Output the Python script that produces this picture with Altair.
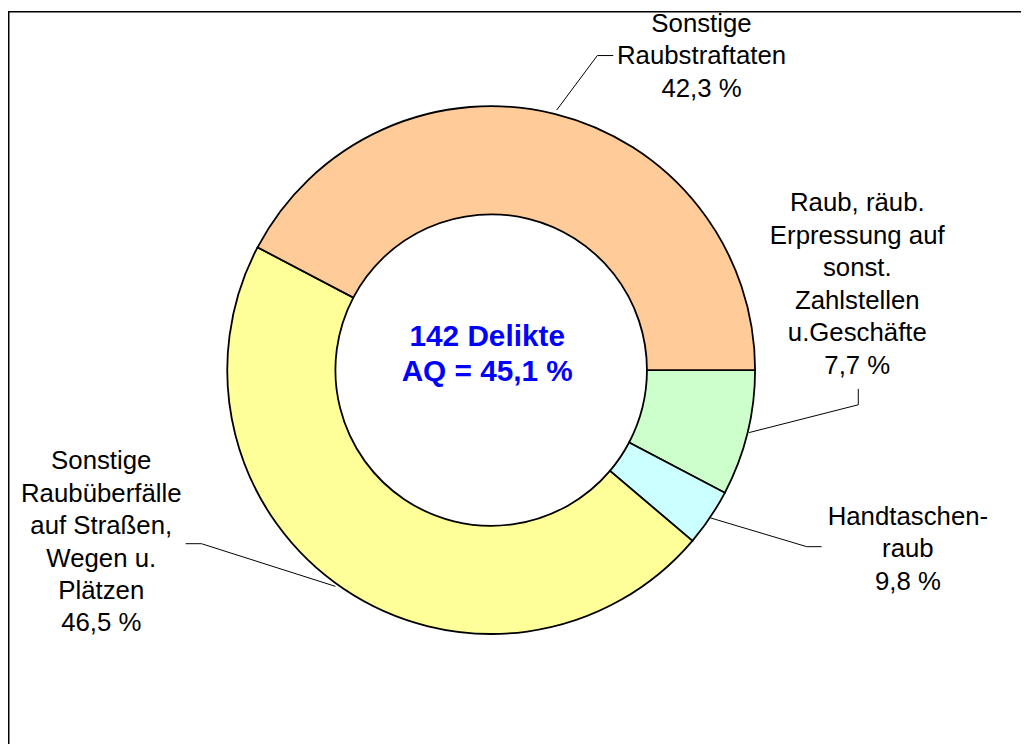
import math
import altair as alt
import pandas as pd

# ---- data ----
categories = [
    "Raub, räub. Erpressung auf sonst. Zahlstellen u.Geschäfte",
    "Handtaschenraub",
    "Sonstige Raubüberfälle auf Straßen, Wegen u. Plätzen",
    "Sonstige Raubstraftaten",
]
shares = [7.7, 3.5, 46.5, 42.3]          # slice sizes as drawn (percent of the ring)
colors = ["#CCFFCC", "#CCFFFF", "#FFFF99", "#FFCC99"]
label_lines = [
    ["Raub, räub.", "Erpressung auf", "sonst.", "Zahlstellen", "u.Geschäfte", "7,7 %"],
    ["Handtaschen-", "raub", "9,8 %"],
    ["Sonstige", "Raubüberfälle", "auf Straßen,", "Wegen u.", "Plätzen", "46,5 %"],
    ["Sonstige", "Raubstraftaten", "42,3 %"],
]
center_lines = ["142 Delikte", "AQ = 45,1 %"]

# ---- annotation layout (page pixels), kept apart from the data ----
label_x = [864, 915, 102, 707]
label_y = [210, 526, 470, 29]
leader_x = [[755, 865, 865], [716, 813, 828], [338, 203, 187], [561, 602, 618]]
leader_y = [[433, 405, 389], [519, 548, 548], [588, 545, 545], [108, 53, 53]]
center_x, center_y = 491, 346

W, H = 974, 724
PAD_R, PAD_B = 1021 - W, 739 - H

slices = pd.DataFrame({
    "category": categories,
    "share": shares,
    "order": list(range(len(categories))),
})

labels = pd.DataFrame({
    "text": ["\n".join(l) for l in label_lines],
    "x": label_x,
    "y": label_y,
})

lead_rows = []
for i, (xs_, ys_) in enumerate(zip(leader_x, leader_y)):
    for j, (a, b) in enumerate(zip(xs_, ys_)):
        lead_rows.append({"id": i, "seq": j, "x": a, "y": b})
leaders = pd.DataFrame(lead_rows)

center = pd.DataFrame({"text": ["\n".join(center_lines)], "x": [center_x], "y": [center_y]})

xs = alt.Scale(domain=[8, 8 + W], nice=False, zero=False)
ys = alt.Scale(domain=[8, 8 + H], nice=False, zero=False, reverse=True)

ring = alt.Chart(slices).mark_arc(
    innerRadius=157, outerRadius=266, stroke="black", strokeWidth=1.8
).encode(
    theta=alt.Theta("share:Q", stack=True,
                    scale=alt.Scale(range=[math.pi / 2, math.pi / 2 + 2 * math.pi])),
    color=alt.Color("category:N", scale=alt.Scale(domain=categories, range=colors), legend=None),
    order=alt.Order("order:Q"),
)

lead = alt.Chart(leaders).mark_line(color="black", strokeWidth=1).encode(
    x=alt.X("x:Q", scale=xs, axis=None),
    y=alt.Y("y:Q", scale=ys, axis=None),
    detail="id:N",
    order="seq:Q",
)

txt = alt.Chart(labels).mark_text(
    font="Liberation Sans", fontSize=26, lineBreak="\n", lineHeight=32.7,
    align="center", baseline="alphabetic", color="black",
).encode(
    x=alt.X("x:Q", scale=xs, axis=None),
    y=alt.Y("y:Q", scale=ys, axis=None),
    text="text:N",
)

ctr = alt.Chart(center).mark_text(
    font="Liberation Sans", fontSize=30, fontWeight="bold", lineBreak="\n", lineHeight=35,
    align="center", baseline="alphabetic", color="#0000FF",
).encode(
    x=alt.X("x:Q", scale=xs, axis=None),
    y=alt.Y("y:Q", scale=ys, axis=None),
    text="text:N",
)

one = pd.DataFrame({"k": [0]})
left_border = alt.Chart(one).mark_rule(color="black", strokeWidth=1.5).encode(
    x=alt.value(0.75), y=alt.value(0), y2=alt.value(H + PAD_B)
)
top_border = alt.Chart(one).mark_rule(color="black", strokeWidth=1.5).encode(
    x=alt.value(0), x2=alt.value(W + PAD_R), y=alt.value(0.75)
)

chart = alt.layer(ring, lead, txt, ctr, left_border, top_border).properties(
    width=W, height=H,
    autosize=alt.AutoSizeParams(type="none"),
    padding={"left": 0, "top": 0, "right": PAD_R, "bottom": PAD_B},
    background="white",
).configure_view(stroke=None)

chart.save("out.html", embed_options={"renderer": "svg", "actions": False})
